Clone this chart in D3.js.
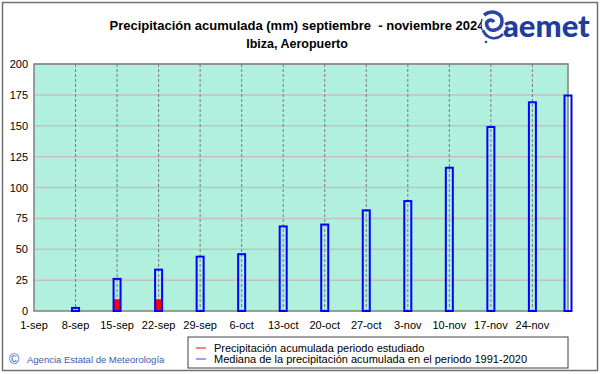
<!DOCTYPE html>
<html>
<head>
<meta charset="utf-8">
<script src="https://cdn.jsdelivr.net/npm/d3@7"></script>
<style>
  body { margin: 0; background: #fff; }
  svg { display: block; font-family: "Liberation Sans", Arial, sans-serif; }
</style>
</head>
<body>
<svg id="chart" width="601" height="374"></svg>
<script>
// data
const fechas = ["2024-09-08", "2024-09-15", "2024-09-22", "2024-09-29", "2024-10-06", "2024-10-13",
                "2024-10-20", "2024-10-27", "2024-11-03", "2024-11-10", "2024-11-17", "2024-11-24", "2024-11-30"];
const mediana = [2.5, 26, 33.5, 44, 46, 68.5, 70, 81.5, 89, 116, 149, 169, 174.5];
const estudiado = [0, 9.5, 9.5];

const tickFechas = ["2024-09-01", "2024-09-08", "2024-09-15", "2024-09-22", "2024-09-29", "2024-10-06", "2024-10-13",
                    "2024-10-20", "2024-10-27", "2024-11-03", "2024-11-10", "2024-11-17", "2024-11-24"];
const tickLabels = ["1-sep", "8-sep", "15-sep", "22-sep", "29-sep", "6-oct", "13-oct",
                    "20-oct", "27-oct", "3-nov", "10-nov", "17-nov", "24-nov"];
const yTicks = [0, 25, 50, 75, 100, 125, 150, 175, 200];

const parse = d3.utcParse("%Y-%m-%d");

let margin = {top: 64, right: 33, bottom: 63, left: 34},
    width = 601 - margin.left - margin.right,
    height = 374 - margin.top - margin.bottom;

let x = d3.scaleUtc()
  .domain([parse("2024-09-01"), parse("2024-11-30")])
  .range([0, width]);

let y = d3.scaleLinear()
  .domain([0, 200])
  .range([height, 0]);

const svg = d3.select("#chart");

// outer frame
svg.append("rect")
  .attr("x", 2.5).attr("y", 2.5)
  .attr("width", 595).attr("height", 368)
  .attr("fill", "none")
  .attr("stroke", "#707070")
  .attr("stroke-width", 1.5);

// titles
svg.append("text")
  .attr("x", 297).attr("y", 30)
  .attr("text-anchor", "middle")
  .attr("font-size", 13).attr("font-weight", "bold")
  .style("white-space", "pre")
  .text("Precipitación acumulada (mm) septiembre  - noviembre 2024");
svg.append("text")
  .attr("x", 297).attr("y", 48)
  .attr("text-anchor", "middle")
  .attr("font-size", 12.5).attr("font-weight", "bold")
  .text("Ibiza, Aeropuerto");

// logo
const logo = svg.append("g").attr("transform", "translate(480,8)");
logo.append("rect").attr("x", 2).attr("y", 2).attr("width", 22).attr("height", 34).attr("fill", "#fff");
logo.append("path")
  .attr("d", "M4,7 C12,1 23,5 22,14 C21,23 9,25 7,18 C5,13 11,10 14,14")
  .attr("fill", "none").attr("stroke", "#2a44a8").attr("stroke-width", 3.5);
logo.append("path")
  .attr("d", "M3,22 C7,31 16,33 23,26")
  .attr("fill", "none").attr("stroke", "#2a44a8").attr("stroke-width", 2.5);
logo.append("path")
  .attr("d", "M2,11 C0,18 2,25 7,29")
  .attr("fill", "none").attr("stroke", "#2a44a8").attr("stroke-width", 1.5).attr("stroke-dasharray", "2,1");
logo.append("circle").attr("cx", 27).attr("cy", 20).attr("r", 1.8).attr("fill", "#2a44a8");
logo.append("circle").attr("cx", 6).attr("cy", 34).attr("r", 1.3).attr("fill", "#2a44a8");
logo.append("text")
  .attr("x", 23).attr("y", 29)
  .attr("font-family", "Lato, 'Liberation Sans', sans-serif")
  .attr("font-size", 31).attr("font-weight", 900)
  .attr("fill", "#1f3d9c")
  .text("aemet");

const g = svg.append("g")
  .attr("transform", "translate(" + margin.left + "," + margin.top + ")");

// plot background
g.append("rect")
  .attr("width", width).attr("height", height)
  .attr("fill", "#b0f0dc");

// horizontal grid
g.selectAll(".hgrid")
  .data(yTicks.slice(1))
  .enter().append("line")
  .attr("class", "hgrid")
  .attr("x1", 0).attr("x2", width)
  .attr("y1", d => y(d)).attr("y2", d => y(d))
  .attr("stroke", "#c4c0c4").attr("stroke-width", 1.5);

// vertical dashed grid
g.selectAll(".vgrid")
  .data(tickFechas.slice(1))
  .enter().append("line")
  .attr("class", "vgrid")
  .attr("x1", d => x(parse(d))).attr("x2", d => x(parse(d)))
  .attr("y1", 0).attr("y2", height)
  .attr("stroke", "#7a7a7a").attr("stroke-dasharray", "3,2");

// plot frame
g.append("rect")
  .attr("width", width).attr("height", height)
  .attr("fill", "none")
  .attr("stroke", "#808080").attr("stroke-width", 1.5);

// red bars (studied period)
g.selectAll(".rojo")
  .data(estudiado)
  .enter().append("rect")
  .attr("class", "rojo")
  .attr("x", (d, i) => x(parse(fechas[i])) - 3)
  .attr("y", d => y(d))
  .attr("width", 6)
  .attr("height", d => height - y(d))
  .attr("fill", "#ff0000");

// blue outlined bars (median)
g.selectAll(".mediana")
  .data(mediana)
  .enter().append("rect")
  .attr("class", "mediana")
  .attr("x", (d, i) => x(parse(fechas[i])) - 3.5)
  .attr("y", d => y(d))
  .attr("width", 7)
  .attr("height", d => height - y(d))
  .attr("fill", "none")
  .attr("stroke", "#0000ff").attr("stroke-width", 2);

// y axis labels
g.selectAll(".ylab")
  .data(yTicks)
  .enter().append("text")
  .attr("class", "ylab")
  .attr("x", -6).attr("y", d => y(d) + 4)
  .attr("text-anchor", "end")
  .attr("font-size", 11)
  .text(d => d);

// x axis labels
g.selectAll(".xlab")
  .data(tickFechas)
  .enter().append("text")
  .attr("class", "xlab")
  .attr("x", d => x(parse(d)))
  .attr("y", height + 18)
  .attr("text-anchor", "middle")
  .attr("font-size", 11)
  .text((d, i) => tickLabels[i]);

// legend
const leg = svg.append("g").attr("transform", "translate(188,337)");
leg.append("rect")
  .attr("width", 380).attr("height", 31)
  .attr("fill", "#fff").attr("stroke", "#404040");
leg.append("line").attr("x1", 8).attr("x2", 18).attr("y1", 11).attr("y2", 11).attr("stroke", "#ff0000");
leg.append("line").attr("x1", 8).attr("x2", 18).attr("y1", 22).attr("y2", 22).attr("stroke", "#4040ff");
leg.append("text").attr("x", 26).attr("y", 15).attr("font-size", 11)
  .text("Precipitación acumulada periodo estudiado");
leg.append("text").attr("x", 26).attr("y", 26).attr("font-size", 11)
  .text("Mediana de la precipitación acumulada en el periodo 1991-2020");

// copyright
svg.append("text")
  .attr("x", 9).attr("y", 364)
  .attr("font-size", 14)
  .attr("fill", "#3a5bb0")
  .text("©");
svg.append("text")
  .attr("x", 27).attr("y", 363)
  .attr("font-size", 9.5)
  .attr("fill", "#3a5bb0")
  .text("Agencia Estatal de Meteorología");
</script>
</body>
</html>
